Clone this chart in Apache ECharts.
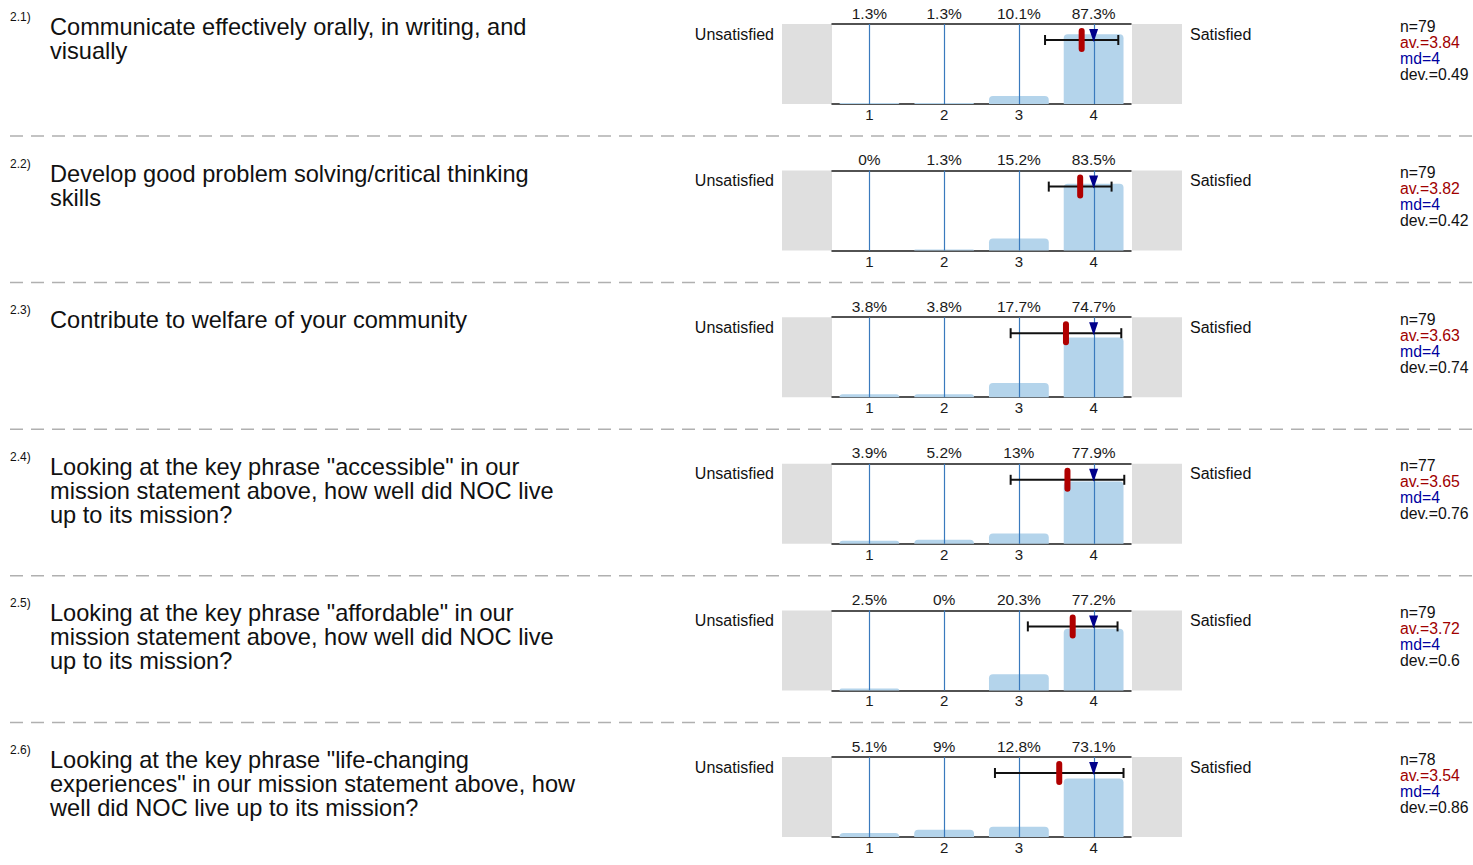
<!DOCTYPE html>
<html>
<head>
<meta charset="utf-8">
<script src="https://cdn.jsdelivr.net/npm/echarts@6/dist/echarts.min.js"></script>
<style>
html,body{margin:0;padding:0;background:#fff;}
#main{width:1473px;height:865px;}
</style>
</head>
<body>
<div id="main"></div>
<script>
// ---- data ----
const categories = ['1', '2', '3', '4'];
const questionNumbers = ['2.1)', '2.2)', '2.3)', '2.4)', '2.5)', '2.6)'];
const questions = [
  ['Communicate effectively orally, in writing, and', 'visually'],
  ['Develop good problem solving/critical thinking', 'skills'],
  ['Contribute to welfare of your community'],
  ['Looking at the key phrase "accessible" in our', 'mission statement above, how well did NOC live', 'up to its mission?'],
  ['Looking at the key phrase "affordable" in our', 'mission statement above, how well did NOC live', 'up to its mission?'],
  ['Looking at the key phrase "life-changing', 'experiences" in our mission statement above, how', 'well did NOC live up to its mission?']
];
const pctQ1 = [1.3, 1.3, 10.1, 87.3];
const pctQ2 = [0, 1.3, 15.2, 83.5];
const pctQ3 = [3.8, 3.8, 17.7, 74.7];
const pctQ4 = [3.9, 5.2, 13, 77.9];
const pctQ5 = [2.5, 0, 20.3, 77.2];
const pctQ6 = [5.1, 9, 12.8, 73.1];
const nValues = [79, 79, 79, 77, 79, 78];
const means = [3.84, 3.82, 3.63, 3.65, 3.72, 3.54];
const medians = [4, 4, 4, 4, 4, 4];
const devs = [0.49, 0.42, 0.74, 0.76, 0.6, 0.86];
const leftLabel = 'Unsatisfied';
const rightLabel = 'Satisfied';

const percentages = [pctQ1, pctQ2, pctQ3, pctQ4, pctQ5, pctQ6];

// ---- layout ----
const FONT = '"Liberation Sans", Arial, Helvetica, sans-serif';
const ROW0 = 24, ROWSTEP = 146.6, PH = 80, PL = 832, PW = 299;

const chart = echarts.init(document.getElementById('main'), null, {renderer: 'svg'});

const grid = [], xAxis = [], yAxis = [], series = [], graphic = [];

percentages.forEach((pct, i) => {
  const top = ROW0 + i * ROWSTEP;
  grid.push({left: PL, top: top, width: PW, height: PH, containLabel: false});
  xAxis.push({
    type: 'category', gridIndex: i, data: categories, position: 'bottom',
    axisLine: {show: true, lineStyle: {color: '#1a1a1a', width: 1.5}},
    axisTick: {show: false},
    axisLabel: {fontFamily: FONT, fontSize: 15, color: '#1a1a1a', margin: 3},
    splitLine: {show: false}
  });
  xAxis.push({
    type: 'category', gridIndex: i, data: pct.map(v => v + '%'), position: 'top',
    axisLine: {show: true, lineStyle: {color: '#1a1a1a', width: 1.5}},
    axisTick: {show: false},
    axisLabel: {fontFamily: FONT, fontSize: 15.5, color: '#1a1a1a', margin: 3},
    splitLine: {show: false}
  });
  xAxis.push({type: 'value', gridIndex: i, min: 0.5, max: 4.5, show: false});
  yAxis.push({type: 'value', gridIndex: i, min: 0, max: 100, show: false});

  series.push({
    type: 'bar', xAxisIndex: 3 * i, yAxisIndex: i, data: pct,
    barWidth: '80%',
    itemStyle: {color: '#b4d4eb', borderRadius: [4, 4, 0, 0]},
    silent: true, z: 2
  });
  series.push({
    type: 'custom', xAxisIndex: 3 * i + 2, yAxisIndex: i, z: 5, silent: true,
    data: [[means[i], medians[i], devs[i]]],
    renderItem: function (params, api) {
      const av = api.value(0), md = api.value(1), dv = api.value(2);
      const yB = api.coord([1, 0])[1];
      const yT = api.coord([1, 100])[1];
      const children = [];
      categories.forEach(c => {
        const x = Math.round(api.coord([+c, 0])[0]) + 0.5;
        children.push({type: 'line', shape: {x1: x, y1: yT, x2: x, y2: yB},
          style: {stroke: '#3a7abd', lineWidth: 1.2}});
      });
      const ey = yT + 16;
      const xl = api.coord([av - dv, 0])[0], xr = api.coord([av + dv, 0])[0];
      children.push({type: 'line', shape: {x1: xl, y1: ey, x2: xr, y2: ey},
        style: {stroke: '#111', lineWidth: 2}});
      children.push({type: 'line', shape: {x1: xl, y1: ey - 5, x2: xl, y2: ey + 5},
        style: {stroke: '#111', lineWidth: 2}});
      children.push({type: 'line', shape: {x1: xr, y1: ey - 5, x2: xr, y2: ey + 5},
        style: {stroke: '#111', lineWidth: 2}});
      const xm = api.coord([av, 0])[0];
      children.push({type: 'rect', shape: {x: xm - 3, y: yT + 4, width: 6, height: 24, r: 3},
        style: {fill: '#b00000'}});
      const xd = api.coord([md, 0])[0];
      children.push({type: 'polygon', shape: {points: [[xd - 4.5, yT + 5], [xd + 4.5, yT + 5], [xd, yT + 18]]},
        style: {fill: '#00008b'}});
      return {type: 'group', children: children};
    }
  });

  graphic.push({type: 'rect', shape: {x: 782, y: top, width: 50, height: PH}, style: {fill: '#dfdfdf'}, z: -1});
  graphic.push({type: 'rect', shape: {x: 1132, y: top, width: 50, height: PH}, style: {fill: '#dfdfdf'}, z: -1});
  graphic.push({type: 'text', x: 10, y: top - 7, style: {text: questionNumbers[i], font: '12px ' + FONT, fill: '#111', verticalAlign: 'middle'}});
  questions[i].forEach((line, k) => {
    graphic.push({type: 'text', x: 50, y: top + 3 + 24 * k, style: {text: line, font: '23.6px ' + FONT, fill: '#111', verticalAlign: 'middle'}});
  });
  graphic.push({type: 'text', x: 774, y: top + 10, style: {text: leftLabel, font: '16px ' + FONT, fill: '#111', align: 'right', verticalAlign: 'middle'}});
  graphic.push({type: 'text', x: 1190, y: top + 10, style: {text: rightLabel, font: '16px ' + FONT, fill: '#111', align: 'left', verticalAlign: 'middle'}});
  const stats = [
    ['n=' + nValues[i], '#111'],
    ['av.=' + means[i], '#a00000'],
    ['md=' + medians[i], '#0000a0'],
    ['dev.=' + devs[i], '#111']
  ];
  stats.forEach((s, k) => {
    graphic.push({type: 'text', x: 1400, y: top + 2 + 16 * k, style: {text: s[0], font: '15.8px ' + FONT, fill: s[1], verticalAlign: 'middle'}});
  });
  if (i < percentages.length - 1) {
    graphic.push({type: 'line', shape: {x1: 10, y1: top + 112, x2: 1473, y2: top + 112},
      style: {stroke: '#b0b0b0', lineWidth: 1.5, lineDash: [13, 8]}});
  }
});

chart.setOption({
  animation: false,
  backgroundColor: '#fff',
  grid: grid,
  xAxis: xAxis,
  yAxis: yAxis,
  series: series,
  graphic: graphic
});
</script>
</body>
</html>
